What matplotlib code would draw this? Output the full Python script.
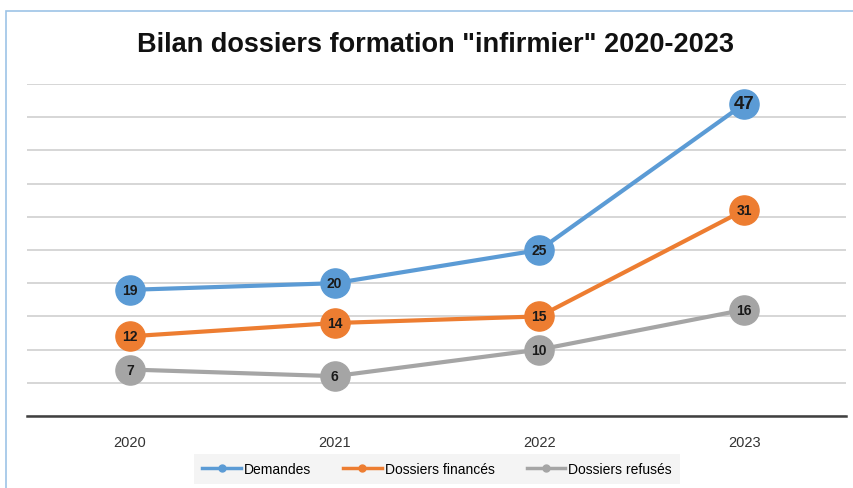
import matplotlib.pyplot as plt
from matplotlib.patches import Rectangle

years = ["2020", "2021", "2022", "2023"]
demandes = [19, 20, 25, 47]
finances = [12, 14, 15, 31]
refuses = [7, 6, 10, 16]
series_names = ["Demandes", "Dossiers financés", "Dossiers refusés"]
colors = ["#5B9BD5", "#ED7D31", "#A5A5A5"]

plt.rcParams['font.family'] = ['Liberation Sans', 'DejaVu Sans']

W, H = 854, 489
fig = plt.figure(figsize=(W / 100, H / 100), dpi=100)
ax = fig.add_axes([27.5 / W, 1 - 417 / H, (846.5 - 27.5) / W, (417 - 85) / H])

# frame around the chart area
fig.patches.append(Rectangle((6 / W, -0.05), 1.0, 1 - 12 / H + 0.05, transform=fig.transFigure,
                             fill=False, edgecolor="#9DC3E6", linewidth=1.2))

x = list(range(len(years)))
for vals, name, c in zip([demandes, finances, refuses], series_names, colors):
    ax.plot(x, vals, color=c, linewidth=3, marker="o", markersize=21,
            markeredgecolor=c, label=name, zorder=3)
    for i, v in enumerate(vals):
        big = (name == "Demandes" and i == 3)
        ax.text(i, v, str(v), ha="center", va="center", fontsize=13.5 if big else 10,
                fontweight="bold", color="#1a1a1a", zorder=4)

ax.set_xlim(-0.5, 3.5)
ax.set_ylim(0, 50)
ax.set_yticks(range(0, 51, 5))
ax.yaxis.grid(True, color="#D0D0D0", linewidth=1.2)
ax.set_axisbelow(True)
ax.tick_params(axis="y", left=False, labelleft=False)
ax.tick_params(axis="x", length=0, pad=14, labelsize=10.5, labelcolor="#333333")
ax.set_xticks(x)
ax.set_xticklabels(years)
for s in ["top", "right", "left"]:
    ax.spines[s].set_visible(False)
ax.spines["bottom"].set_color("#404040")
ax.spines["bottom"].set_linewidth(1.8)

fig.text(436 / W, 1 - 45 / H, 'Bilan dossiers formation "infirmier" 2020-2023', ha="center", va="center",
         fontsize=19.5, fontweight="bold", color="#111111")

handles = [plt.Line2D([], [], color=c, linewidth=2.5, marker="o", markersize=5) for c in colors]
leg = fig.legend(handles, series_names, loc="center", bbox_to_anchor=(437 / W, 1 - 470 / H),
                 ncol=3, frameon=True, fontsize=10, handlelength=2.8, columnspacing=2.3,
                 borderpad=0.6, handletextpad=0.2)
leg.get_frame().set_facecolor("#F2F2F2")
leg.get_frame().set_edgecolor("none")
leg.get_frame().set_boxstyle("square", pad=0)

fig.savefig("out.png", dpi=100)
